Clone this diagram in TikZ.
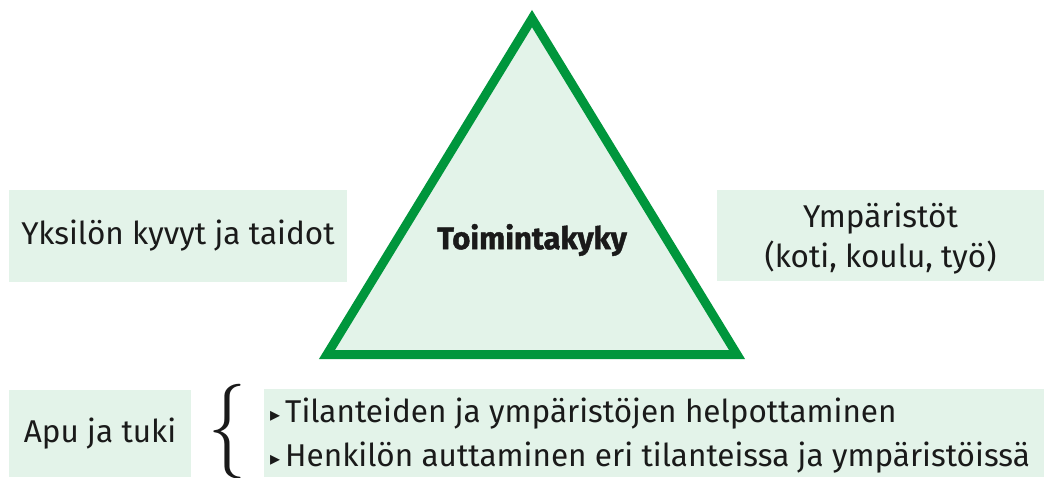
\documentclass[tikz,border=0pt]{standalone}
\usepackage{xcolor}
\usepackage{fontspec}
\setsansfont{Fira Sans}
\newfontfamily\heavyfont[BoldFeatures={FakeBold=1.4}]{Fira Sans}
\newfontfamily\symfont{DejaVu Sans}
\usepackage{tikz}
\usetikzlibrary{positioning, calc}
\definecolor{trigreen}{RGB}{0, 150, 60}
\definecolor{palegreen}{RGB}{227, 243, 233}
\definecolor{inkblack}{RGB}{26, 26, 26}
\tikzstyle{infobox} = [
    rectangle,
    fill=palegreen,
    inner sep=0pt,
    text=inkblack,
    align=center,
    font=\sffamily\fontsize{31.5}{40}\selectfont
]
\tikzstyle{triangle} = [
    fill=palegreen,
    draw=trigreen,
    line width=9pt
]
\newcommand{\tri}{\raisebox{1pt}{\symfont\fontsize{20}{20}\selectfont ▸}\hspace{5pt}}

\begin{document}
\begin{tikzpicture}[x=1pt, y=1pt]
        \useasboundingbox (0, 0) rectangle (1044, 477);

        % Triangle
        \filldraw[triangle] (532, 458.4) -- (737, 122.5) -- (327, 122.5) -- cycle;
        \node[text=inkblack, font=\heavyfont\bfseries\fontsize{31}{36}\selectfont] (core) at (532, 237) {Toimintakyky};

        % Side boxes
        \node[infobox, minimum width=338pt, minimum height=92pt] (skills) at (178, 241) {Yksilön kyvyt ja taidot};
        \node[infobox, minimum width=327pt, minimum height=91pt] (env) at (880.5, 241.5) {};
        \node[infobox, fill=none] (envtext) at (880.5, 238.5) {Ympäristöt\\(koti, koulu, työ)};

        % Support
        \node[infobox, minimum width=182pt, minimum height=87pt] (support) at (100, 43.5) {Apu ja tuki};
        \node[infobox, minimum width=780pt, minimum height=88pt] (ways) at (654, 44) {};
        \node[text=inkblack, font=\rmfamily\fontsize{95}{95}\selectfont, inner sep=0pt, xscale=0.8] (brace) at (227, 45) {\{};
        \node[infobox, fill=none, align=left, anchor=west, font=\sffamily\fontsize{31.5}{44}\selectfont] (list) at (270, 41)
            {\tri Tilanteiden ja ympäristöjen helpottaminen\\\tri Henkilön auttaminen eri tilanteissa ja ympäristöissä};
    \end{tikzpicture}
\end{document}
